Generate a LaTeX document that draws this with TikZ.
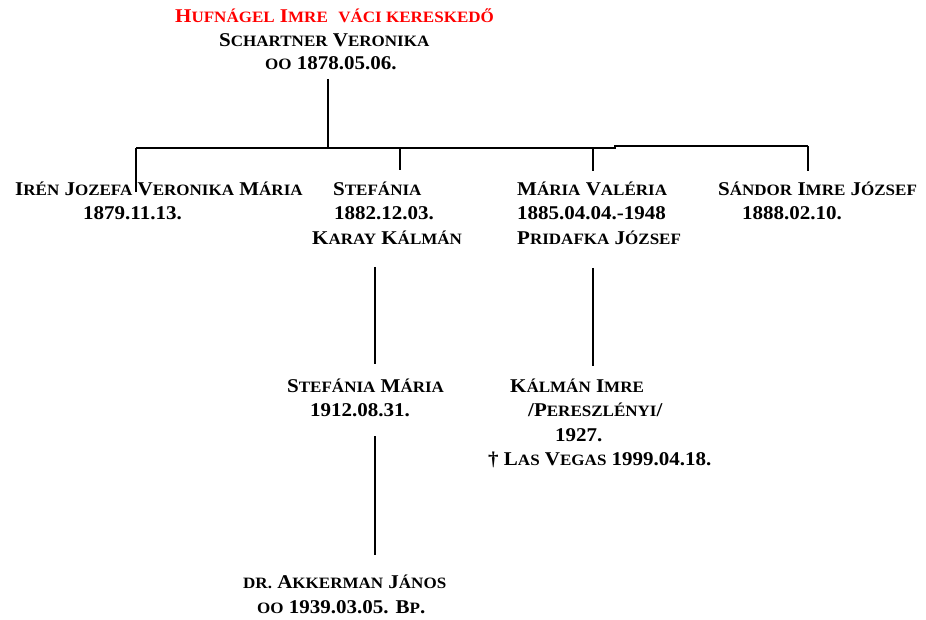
\documentclass[tikz,border=0pt]{standalone}
\usepackage{fontspec}
\setmainfont[FakeStretch=1.077]{Liberation Serif}
\newcommand\smc[1]{{\fontsize{15.8pt}{15.8pt}\selectfont #1}}
\begin{document}
\begin{tikzpicture}[x=1pt,y=-1pt,
  txt/.style={anchor=base west,inner sep=0pt,font=\fontsize{19.5pt}{24pt}\selectfont\bfseries},
  redtxt/.style={txt,text={rgb,255:red,255;green,0;blue,0}},
  conn/.style={line width=1.8pt,black}]
\useasboundingbox (0,0) rectangle (926,620);
% parents
\node[redtxt] (p1) at (175,23) {H\smc{UFNÁGEL} I\smc{MRE} \ \smc{VÁCI KERESKEDŐ}};
\node[txt] (p2) at (219,47) {S\smc{CHARTNER} V\smc{ERONIKA}};
\node[txt] (p3) at (265,70) {\smc{OO} 1878.05.06.};
% children
\node[txt] (c1a) at (15,196) {I\smc{RÉN} J\smc{OZEFA} V\smc{ERONIKA} M\smc{ÁRIA}};
\node[txt] (c1b) at (83,220) {1879.11.13.};
\node[txt] (c2a) at (333,196) {S\smc{TEFÁNIA}};
\node[txt] (c2b) at (334,220) {1882.12.03.};
\node[txt] (c2c) at (312,245) {K\smc{ARAY} K\smc{ÁLMÁN}};
\node[txt] (c3a) at (517,196) {M\smc{ÁRIA} V\smc{ALÉRIA}};
\node[txt] (c3b) at (517,220) {1885.04.04.-1948};
\node[txt] (c3c) at (517,245) {P\smc{RIDAFKA} J\smc{ÓZSEF}};
\node[txt] (c4a) at (718,196) {S\smc{ÁNDOR} I\smc{MRE} J\smc{ÓZSEF}};
\node[txt] (c4b) at (742,220) {1888.02.10.};
% grandchildren
\node[txt] (g1a) at (287,392) {S\smc{TEFÁNIA} M\smc{ÁRIA}};
\node[txt] (g1b) at (310,416.5) {1912.08.31.};
\node[txt] (g2a) at (510,392) {K\smc{ÁLMÁN} I\smc{MRE}};
\node[txt] (g2b) at (528,416.5) {/P\smc{ERESZLÉNYI}/};
\node[txt] (g2c) at (555,441) {1927.};
\node[txt] (g2d) at (488,465.5) {† L\smc{AS} V\smc{EGAS} 1999.04.18.};
% great-grandchild
\node[txt] (h1a) at (243,588) {\smc{DR.} A\smc{KKERMAN} J\smc{ÁNOS}};
\node[txt] (h1b) at (257,613) {\smc{OO} 1939.03.05. B\smc{P}.};
% connector points
\coordinate (top) at (328,79);
\coordinate (barM) at (328,148);
\coordinate (barL) at (136,148);
\coordinate (barS) at (400,148);
\coordinate (barV) at (593,148);
\coordinate (barK) at (615,148);
\coordinate (barK2) at (615,146);
\coordinate (barR) at (808,146);
\coordinate (endL) at (136,192);
\coordinate (endS) at (400,170);
\coordinate (endV) at (593,171);
\coordinate (endR) at (808,171);
\coordinate (s1) at (375,267);
\coordinate (s2) at (375,364);
\coordinate (v1) at (593,268);
\coordinate (v2) at (593,366);
\coordinate (m1) at (375,436);
\coordinate (m2) at (375,555);
% connectors
\draw[conn] (top) -- (barM);
\draw[conn] (barL) -- (barK) -- (barK2) -- (barR);
\draw[conn] (barL) -- (endL);
\draw[conn] (barS) -- (endS);
\draw[conn] (barV) -- (endV);
\draw[conn] (barR) -- (endR);
\draw[conn] (s1) -- (s2);
\draw[conn] (v1) -- (v2);
\draw[conn] (m1) -- (m2);
\end{tikzpicture}
\end{document}
